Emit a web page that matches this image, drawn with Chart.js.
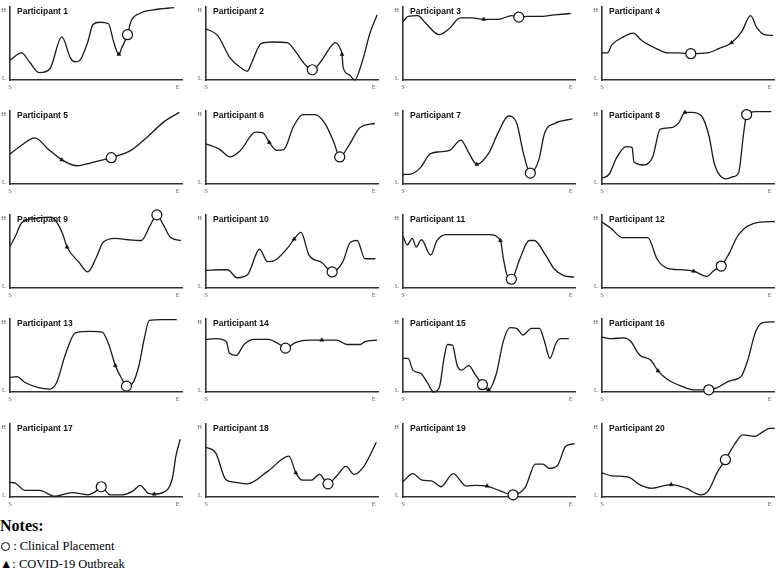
<!DOCTYPE html>
<html>
<head>
<meta charset="utf-8">
<script src="https://cdn.jsdelivr.net/npm/chart.js@4.4.0/dist/chart.umd.min.js"></script>
<style>
  body { margin: 0; background: #fff; width: 778px; height: 572px; overflow: hidden; position: relative; }
  canvas.panel { position: absolute; }
  .notes { position: absolute; left: 0; font-family: "Liberation Serif", "Times New Roman", serif; color: #000; }
  .notes h4 { margin: 0; font-size: 16px; font-weight: bold; line-height: 16px; }
  .notes div { font-size: 12.5px; line-height: 18px; white-space: nowrap; }
  .ring { display: inline-block; width: 7px; height: 7px; border: 1.2px solid #000; border-radius: 50%; vertical-align: -1px; margin-left: 1px; }
</style>
</head>
<body>
<div class="notes" style="top:518px">
  <h4>Notes:</h4>
  <div style="margin-top:3px"><span class="ring"></span> : Clinical Placement</div>
  <div>▲: COVID-19 Outbreak</div>
</div>
<script>
// curves as [x, y] pairs, x: 0 (S) .. 100 (end of axis), y: 0 (L) .. 100 (H)
const p1 = [[0,27],[6.7,37],[11.5,24],[17,10],[23,15],[30,59],[35,30],[37.5,25],[40,26],[45,52],[48,76],[52,79],[57,77],[60,52],[63,35],[64.5,43],[68,62],[70,80],[75,91],[83,96],[95,99]];
const p2 = [[0,70],[6.7,61],[14,30],[20,17],[24,12],[26.5,24],[32,50],[39,52],[47,51],[52.4,37],[57,22],[61.5,14],[66.7,26],[71.4,43],[75,51],[78,41],[78.7,35],[79.4,17],[83,7],[86,0],[90.5,26],[95,65],[99,89]];
const p3 = [[0,80],[3,87],[8.6,88],[13,78],[21,62],[26.7,70],[33,85],[40,85],[46.7,83],[55,83],[63,88],[67,86],[72,87],[78,87],[87.6,89],[97,91]];
const p4 = [[0,37],[3,37],[5.7,48],[12.4,59],[18,64],[23,54],[31.4,43],[38,37],[44.8,37],[51.4,36],[61,37],[67.6,43],[75,51],[81,67],[86,88],[89.5,72],[94,62],[99,61]];
const p5 = [[0,41],[6.7,53],[14.4,63],[22,48],[30,33],[38.5,25],[47,29],[58.6,36],[70,46],[79.8,65],[89,85],[98,98]];
const p6 = [[0,55],[7.5,48],[14,37],[20,46],[28.6,71],[33,70],[36.6,57],[40.9,46],[45,47],[50.5,78],[56,95],[63,95],[68.8,83],[74,57],[77.4,37],[83,54],[89,77],[97.8,83]];
const p7 = [[0,13],[5,14],[10,22],[15.6,41],[21,44],[27,46],[33.5,60],[38,43],[42.7,27],[49.8,43],[55,70],[61,93],[65.8,83],[70,39],[73.7,15],[78.6,33],[82,70],[88,83],[98,89]];
const p8 = [[0,8],[4,13],[8.7,37],[14,51],[17.4,50],[18.5,30],[24,26],[29.3,37],[33.7,75],[40,77],[44.5,84],[48,98],[52,98],[57.6,93],[62,65],[65,28],[71.7,7],[76,10],[79,15],[82,70],[83.7,95],[89,99],[98,99]];
const p9 = [[0,57],[3,70],[6.7,89],[14,95],[23.8,97],[26.7,91],[30.5,74],[33,56],[40,35],[45,22],[50,42],[54,63],[61,68],[68.6,66],[76,65],[81,85],[85,100],[88.6,87],[93,69],[99,65]];
const p10 = [[0,24],[7.7,25],[12.5,25],[18,14],[24,18],[31,53],[35.6,36],[40,38],[48,57],[51,67],[55,76],[59.6,45],[67,35],[73,22],[79,35],[83.7,63],[87.5,65],[92,40],[98,40]];
const p11 = [[0,71],[2.5,59],[5.4,68],[7.6,56],[10.7,66],[16,45],[19.7,65],[25,73],[39.8,73],[50,73],[56.4,65],[57.9,43],[60,19],[62.7,12],[67.5,39],[73,65],[76,65],[82,47],[87.6,26],[93,17],[99,15]];
const p12 = [[0,90],[5,82],[11.8,69],[26.5,69],[32,39],[38,27],[46,25],[53,23],[60.8,16],[64.7,24],[69,30],[73.5,47],[79,73],[91,90],[100,91]];
const p13 = [[0,20],[4,21],[8.7,13],[16.5,6],[23,4],[27,13],[32,51],[37.9,81],[46.6,83],[53.4,82],[57.3,64],[61,36],[65,17],[67.4,8],[71,12],[74.8,38],[77.7,73],[80.6,98],[88,99],[96.5,99]];
const p14 = [[0,72],[5.8,73],[11.7,69],[13.6,53],[17.5,50],[22,65],[28,72],[35.9,72],[42.7,65],[46,60],[52,68],[60,71],[67,71],[75.7,71],[81.6,65],[89.3,65],[92,69],[99,71]];
const p15 = [[0,46],[3,46],[5.7,30],[10.5,25],[14.3,12],[17.7,0],[21,6],[23.8,47],[25.7,65],[28.6,64],[31.4,36],[34,30],[38,36],[42,23],[46,10],[49.5,3],[54,25],[58,69],[61.9,88],[65.7,87],[69.5,78],[74.3,87],[79,87],[81.9,69],[85,46],[88.6,67],[91,73],[96,73]];
const p16 = [[0,75],[5.9,73],[12.7,74],[16.7,69],[21.6,51],[28.4,43],[32.4,29],[38,17],[46,8],[53,3],[61.8,3],[66.7,6],[73.5,15],[80.4,21],[84,41],[89,83],[93,95],[100,96]];
const p17 = [[0,20],[3,19],[8.7,9],[17,9],[26,1],[36,6],[45,3],[51,10],[52.8,14],[58,3],[65,3],[71,8],[75.4,16],[80,5],[83.5,4],[88.4,6],[94,26],[96,56],[98.5,79]];
const p18 = [[0,68],[5.7,60],[11.4,24],[17,20],[24,18],[35.7,35],[48,56],[52,33],[55.7,23],[61,23],[65.7,31],[70.6,18],[75.7,29],[81,42],[85.7,31],[91.4,42],[98.6,75]];
const p19 = [[0,21],[5.7,32],[11,23],[16.6,22],[22,14],[29,32],[36.6,15],[42,16],[48.6,15],[56.6,8],[63.7,3],[70.9,14],[76.6,45],[81,45],[84.6,39],[89.4,43],[94,69],[99.4,73]];
const p20 = [[0,33],[5.7,29],[15.7,27],[21,18],[28.6,12],[40,17],[48.6,12],[57,3],[61.4,8],[67,35],[71.4,51],[77,73],[81.4,85],[88.6,83],[93,89],[97,94],[100,94]];

const curves = [p1,p2,p3,p4,p5,p6,p7,p8,p9,p10,p11,p12,p13,p14,p15,p16,p17,p18,p19,p20];

// clinical placement (circle) and covid-19 outbreak (triangle), one per participant
const placement = [[68,62],[61.5,14],[67,86],[51.4,36],[58.6,36],[77.4,37],[73.7,15],[83.7,95],[85,100],[73,22],
                   [62.7,12],[69,30],[67.4,8],[46,60],[46,10],[61.8,3],[52.8,14],[70.6,18],[63.7,3],[71.4,51]];
const outbreak = [[63,35],[78.7,35],[46.7,83],[75,51],[30,33],[36.6,57],[42.7,27],[48,98],[33,56],[51,67],
                  [56.4,65],[53,23],[61,36],[67,71],[49.5,3],[32.4,29],[83.5,4],[52,33],[48.6,15],[40,17]];

const xTicks = ['S', 'E'];
const yTicks = ['L', 'H'];

const colLeft = [10, 206, 403, 602];
const rowBottom = [80, 184, 288, 392, 497];
const axisW = 174, axisH = 76;
const padL = 10, padT = 5, padR = 5, padB = 12;

const titlePlugin = {
  id: 'panelTitle',
  afterDraw(chart, args, opts) {
    const ctx = chart.ctx, a = chart.chartArea;
    ctx.save();
    ctx.font = 'bold 8.5px "Liberation Sans", Arial, sans-serif';
    ctx.fillStyle = '#111';
    ctx.textBaseline = 'top';
    ctx.fillText(opts.text, a.left + 7, a.top + 1);
    ctx.restore();
  }
};

const toPts = arr => arr.map(p => ({x: p[0], y: p[1]}));

curves.forEach((c, i) => {
  const col = i % 4, row = Math.floor(i / 4);
  const cv = document.createElement('canvas');
  cv.className = 'panel';
  cv.width = padL + axisW + padR;
  cv.height = padT + axisH + padB;
  cv.style.left = (colLeft[col] - padL) + 'px';
  cv.style.top = (rowBottom[row] - axisH - padT) + 'px';
  document.body.appendChild(cv);

  new Chart(cv.getContext('2d'), {
    type: 'line',
    data: {
      datasets: [
        {
          data: toPts([placement[i]]),
          showLine: false,
          pointStyle: 'circle',
          pointRadius: 5,
          pointBackgroundColor: '#fff',
          pointBorderColor: '#111',
          pointBorderWidth: 1.2,
          clip: false,
          order: 0
        },
        {
          data: toPts([outbreak[i]]),
          showLine: false,
          pointStyle: 'triangle',
          pointRadius: 2.3,
          pointBackgroundColor: '#111',
          pointBorderColor: '#111',
          pointBorderWidth: 0.5,
          clip: false,
          order: 1
        },
        {
          data: toPts(c),
          borderColor: '#1a1a1a',
          borderWidth: 1.3,
          pointRadius: 0,
          cubicInterpolationMode: 'monotone',
          fill: false,
          clip: false,
          order: 2
        }
      ]
    },
    options: {
      responsive: false,
      animation: false,
      devicePixelRatio: 1,
      layout: { padding: { left: 0, top: padT, right: padR, bottom: 0 } },
      scales: {
        x: {
          type: 'linear',
          min: 0,
          max: 100,
          grid: { display: false, drawTicks: false },
          border: { display: true, color: '#333', width: 1.6 },
          afterBuildTicks: s => { s.ticks = [{value: 0}, {value: 97}]; },
          afterFit: s => { s.height = padB; },
          ticks: {
            callback: (v, k) => xTicks[k],
            padding: 3,
            maxRotation: 0,
            autoSkip: false,
            color: '#666',
            font: { family: '"Liberation Serif", serif', size: 6.5 }
          }
        },
        y: {
          min: 0,
          max: 100,
          grid: { display: false, drawTicks: false },
          border: { display: true, color: '#333', width: 1.6 },
          afterBuildTicks: s => { s.ticks = [{value: 2}, {value: 96}]; },
          afterFit: s => { s.width = padL; },
          ticks: {
            callback: (v, k) => yTicks[k],
            padding: 4,
            autoSkip: false,
            color: '#666',
            font: { family: '"Liberation Serif", serif', size: 6.5 }
          }
        }
      },
      plugins: {
        legend: { display: false },
        tooltip: { enabled: false },
        panelTitle: { text: 'Participant ' + (i + 1) }
      }
    },
    plugins: [titlePlugin]
  });
});
</script>
</body>
</html>
